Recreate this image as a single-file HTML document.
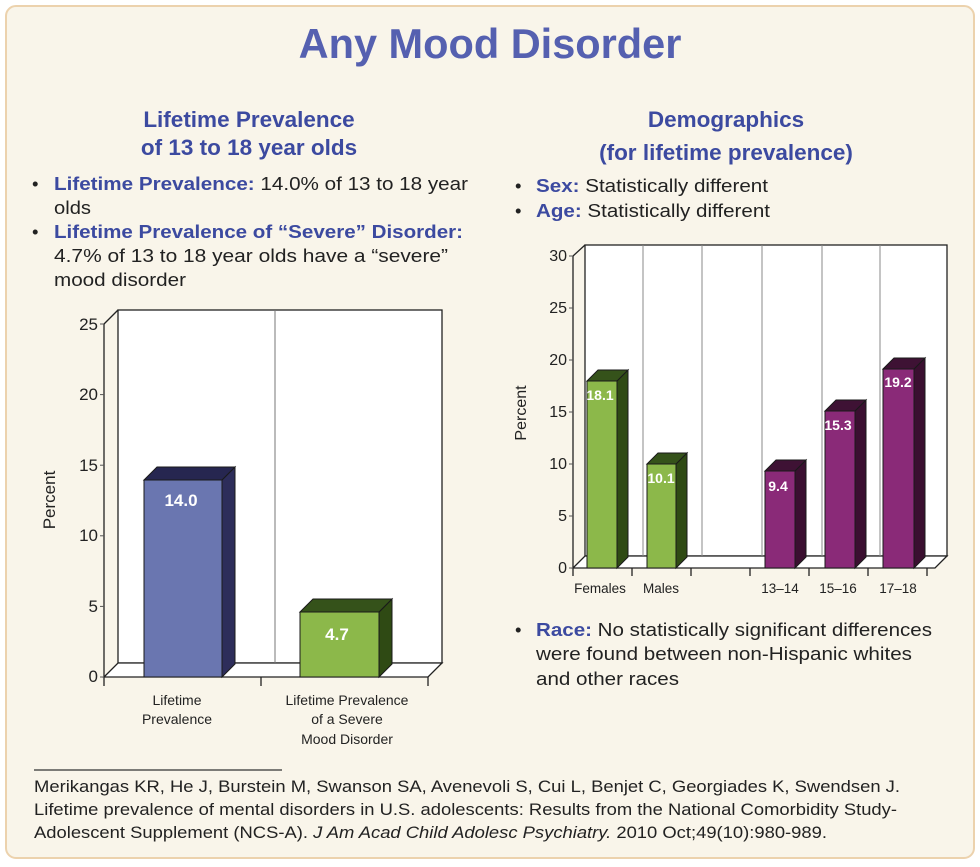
<!DOCTYPE html>
<html><head><meta charset="utf-8"><style>
html,body{margin:0;padding:0;background:#fff;}
svg{display:block;font-family:"Liberation Sans",sans-serif;}
</style></head><body>
<svg width="980" height="867" viewBox="0 0 980 867" xmlns="http://www.w3.org/2000/svg">
<rect x="6" y="6" width="968" height="852" rx="10" fill="#f9f5ea" stroke="#ecd2ad" stroke-width="2"/>
<text x="490" y="58" text-anchor="middle" font-size="41.5" font-weight="bold" fill="#5560b0">Any Mood Disorder</text>

<g font-weight="bold" fill="#3c4aa0" font-size="22.5" text-anchor="middle">
<text x="249" y="127">Lifetime Prevalence</text>
<text x="249" y="155">of 13 to 18 year olds</text>
<text x="726" y="127">Demographics</text>
<text x="726" y="160">(for lifetime prevalence)</text>
</g>

<g font-size="18.5" fill="#222" lengthAdjust="spacingAndGlyphs">
<text x="32" y="190">•</text>
<text x="54" y="190" textLength="414" lengthAdjust="spacingAndGlyphs"><tspan fill="#3c4aa0" font-weight="bold">Lifetime Prevalence:</tspan> 14.0% of 13 to 18 year</text>
<text x="54" y="214" textLength="37" lengthAdjust="spacingAndGlyphs">olds</text>
<text x="32" y="238">•</text>
<text x="54" y="238" fill="#3c4aa0" font-weight="bold" textLength="409" lengthAdjust="spacingAndGlyphs">Lifetime Prevalence of “Severe” Disorder:</text>
<text x="54" y="262" textLength="394" lengthAdjust="spacingAndGlyphs">4.7% of 13 to 18 year olds have a “severe”</text>
<text x="54" y="286" textLength="132" lengthAdjust="spacingAndGlyphs">mood disorder</text>

<text x="515" y="192">•</text>
<text x="536" y="192" textLength="232" lengthAdjust="spacingAndGlyphs"><tspan fill="#3c4aa0" font-weight="bold">Sex:</tspan> Statistically different</text>
<text x="515" y="217">•</text>
<text x="536" y="217" textLength="234" lengthAdjust="spacingAndGlyphs"><tspan fill="#3c4aa0" font-weight="bold">Age:</tspan> Statistically different</text>

<text x="515" y="636">•</text>
<text x="536" y="636" textLength="396" lengthAdjust="spacingAndGlyphs"><tspan fill="#3c4aa0" font-weight="bold">Race:</tspan> No statistically significant differences</text>
<text x="536" y="660" textLength="376" lengthAdjust="spacingAndGlyphs">were found between non-Hispanic whites</text>
<text x="536" y="685" textLength="143" lengthAdjust="spacingAndGlyphs">and other races</text>
</g>

<!-- LEFT CHART -->
<g stroke="#222" stroke-width="1.3" fill="none">
<rect x="118" y="310" width="324" height="353" fill="#fff"/>
<polygon points="104,677 118,663 442,663 428,677" fill="#fff"/>
<line x1="104" y1="324" x2="118" y2="310"/>
<line x1="104" y1="324" x2="104" y2="686"/>
<line x1="261" y1="677" x2="261" y2="686"/>
<line x1="428" y1="677" x2="428" y2="686"/>
</g>
<line x1="275" y1="310" x2="275" y2="663" stroke="#777" stroke-width="1"/>
<g stroke="#555" stroke-width="1">
<line x1="100" y1="324" x2="104" y2="324"/><line x1="100" y1="394.6" x2="104" y2="394.6"/><line x1="100" y1="465.2" x2="104" y2="465.2"/><line x1="100" y1="535.8" x2="104" y2="535.8"/><line x1="100" y1="606.4" x2="104" y2="606.4"/><line x1="100" y1="677" x2="104" y2="677"/>
</g>
<g font-size="17" fill="#222" text-anchor="end">
<text x="98" y="330">25</text><text x="98" y="400">20</text><text x="98" y="471">15</text><text x="98" y="541">10</text><text x="98" y="612">5</text><text x="98" y="682">0</text>
</g>
<text transform="translate(55,500) rotate(-90)" text-anchor="middle" font-size="17" fill="#222">Percent</text>
<g stroke="#1a1a1a" stroke-width="1">
<polygon points="222,480 235,467 235,664 222,677" fill="#2d2d5a"/>
<polygon points="144,480 157,467 235,467 222,480" fill="#262650"/>
<rect x="144" y="480" width="78" height="197" fill="#6a76b0"/>
<polygon points="379,612 392,599 392,664 379,677" fill="#2f4a14"/>
<polygon points="300,612 313,599 392,599 379,612" fill="#35521a"/>
<rect x="300" y="612" width="79" height="65" fill="#8cb84a"/>
</g>
<g font-size="17" font-weight="bold" fill="#fff" text-anchor="middle">
<text x="181" y="506">14.0</text><text x="337" y="640">4.7</text>
</g>
<g font-size="14" fill="#222" text-anchor="middle">
<text x="177" y="705">Lifetime</text><text x="177" y="724">Prevalence</text>
<text x="347" y="705">Lifetime Prevalence</text><text x="347" y="724">of a Severe</text><text x="347" y="744">Mood Disorder</text>
</g>

<!-- RIGHT CHART -->
<g stroke="#222" stroke-width="1.3" fill="none">
<rect x="585" y="245" width="362" height="311" fill="#fff"/>
<polygon points="573,568 585,556 947,556 935,568" fill="#fff"/>
<line x1="573" y1="256" x2="585" y2="245"/>
<line x1="573" y1="256" x2="573" y2="576"/>
<line x1="632" y1="568" x2="632" y2="576"/><line x1="691" y1="568" x2="691" y2="576"/><line x1="750" y1="568" x2="750" y2="576"/><line x1="809" y1="568" x2="809" y2="576"/><line x1="868" y1="568" x2="868" y2="576"/><line x1="927" y1="568" x2="927" y2="576"/>
</g>
<g stroke="#888" stroke-width="1">
<line x1="643" y1="245" x2="643" y2="556"/><line x1="702" y1="245" x2="702" y2="556"/><line x1="762" y1="245" x2="762" y2="556"/><line x1="822" y1="245" x2="822" y2="556"/><line x1="880" y1="245" x2="880" y2="556"/>
</g>
<g stroke="#555" stroke-width="1">
<line x1="569" y1="256" x2="573" y2="256"/><line x1="569" y1="308" x2="573" y2="308"/><line x1="569" y1="360" x2="573" y2="360"/><line x1="569" y1="412" x2="573" y2="412"/><line x1="569" y1="464" x2="573" y2="464"/><line x1="569" y1="516" x2="573" y2="516"/><line x1="569" y1="568" x2="573" y2="568"/>
</g>
<g font-size="16" fill="#222" text-anchor="end">
<text x="567" y="261">30</text><text x="567" y="313">25</text><text x="567" y="365">20</text><text x="567" y="417">15</text><text x="567" y="469">10</text><text x="567" y="521">5</text><text x="567" y="573">0</text>
</g>
<text transform="translate(526,413) rotate(-90)" text-anchor="middle" font-size="16" fill="#222">Percent</text>
<g stroke="#1a1a1a" stroke-width="1">
<polygon points="617,381 628,370 628,557 617,568" fill="#2f4a14"/>
<polygon points="587,381 598,370 628,370 617,381" fill="#35521a"/>
<rect x="587" y="381" width="30" height="187" fill="#8cb84a"/>
<polygon points="676,464 687,453 687,557 676,568" fill="#2f4a14"/>
<polygon points="647,464 658,453 687,453 676,464" fill="#35521a"/>
<rect x="647" y="464" width="29" height="104" fill="#8cb84a"/>
<polygon points="795,471 806,460 806,557 795,568" fill="#3a0f30"/>
<polygon points="765,471 776,460 806,460 795,471" fill="#3e1234"/>
<rect x="765" y="471" width="30" height="97" fill="#8a2a78"/>
<polygon points="855,411 866,400 866,557 855,568" fill="#3a0f30"/>
<polygon points="825,411 836,400 866,400 855,411" fill="#3e1234"/>
<rect x="825" y="411" width="30" height="157" fill="#8a2a78"/>
<polygon points="914,369 925,358 925,557 914,568" fill="#3a0f30"/>
<polygon points="883,369 894,358 925,358 914,369" fill="#3e1234"/>
<rect x="883" y="369" width="31" height="199" fill="#8a2a78"/>
</g>
<g font-size="14" font-weight="bold" fill="#fff" text-anchor="middle">
<text x="600" y="400">18.1</text><text x="661" y="483">10.1</text><text x="778" y="491">9.4</text><text x="838" y="430">15.3</text><text x="898" y="387">19.2</text>
</g>
<g font-size="13.5" fill="#222" text-anchor="middle">
<text x="600" y="593">Females</text><text x="661" y="593">Males</text><text x="780" y="593">13–14</text><text x="838" y="593">15–16</text><text x="898" y="593">17–18</text>
</g>

<!-- FOOTER -->
<line x1="34" y1="770" x2="282" y2="770" stroke="#333" stroke-width="1.2"/>
<g font-size="16.5" fill="#222">
<text x="34" y="792" textLength="866" lengthAdjust="spacingAndGlyphs">Merikangas KR, He J, Burstein M, Swanson SA, Avenevoli S, Cui L, Benjet C, Georgiades K, Swendsen J.</text>
<text x="34" y="815" textLength="863" lengthAdjust="spacingAndGlyphs">Lifetime prevalence of mental disorders in U.S. adolescents: Results from the National Comorbidity Study-</text>
<text x="34" y="838" textLength="793" lengthAdjust="spacingAndGlyphs">Adolescent Supplement (NCS-A). <tspan font-style="italic">J Am Acad Child Adolesc Psychiatry.</tspan> 2010 Oct;49(10):980-989.</text>
</g>
</svg>
</body></html>
